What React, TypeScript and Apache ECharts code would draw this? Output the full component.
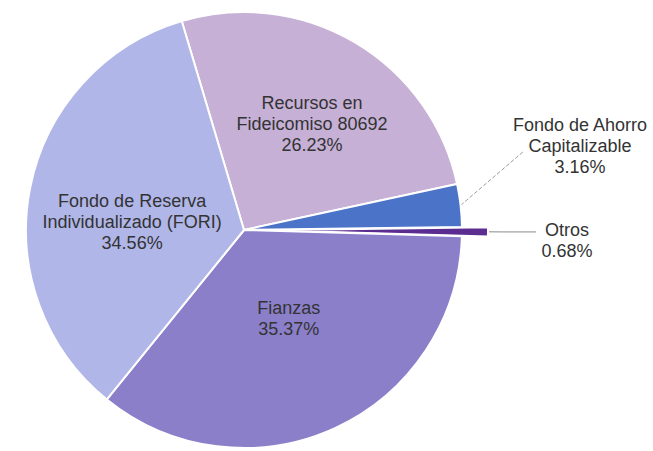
import React, { useEffect, useRef } from "react";
import * as echarts from "echarts";

const categories = [
  "Recursos en\nFideicomiso 80692",
  "Fondo de Ahorro\nCapitalizable",
  "Otros",
  "Fianzas",
  "Fondo de Reserva\nIndividualizado (FORI)",
];
const values = [26.23, 3.16, 0.68, 35.37, 34.56];
const colors = ["#c6b0d6", "#4b73c8", "#5c2d91", "#8b7fca", "#b0b6e8"];
const labelOffsets: [number, number][] = [
  [11, -10],
  [0, 0],
  [0, 0],
  [-2, -13],
  [-2, 14],
];

export default function App() {
  const ref = useRef<HTMLDivElement>(null);
  useEffect(() => {
    if (!ref.current) return;
    const chart = echarts.init(ref.current, undefined, { renderer: "svg" });
    const data = categories.map((name, i) => {
      const base: any = {
        name,
        value: values[i],
        selected: i === 2,
        itemStyle: { color: colors[i] },
        select: { itemStyle: { color: colors[i] } },
      };
      if (i === 1) {
        base.label = { position: "outside" };
        base.labelLine = {
          show: true,
          lineStyle: { color: "#9a9a9a", type: "dashed", width: 1 },
        };
      } else if (i === 2) {
        base.label = {
          position: "outside",
          align: "left",
          padding: [18, 0, 0, 0],
          formatter: (p: any) =>
            `{c|${p.name}}\n{c|${p.value.toFixed(2)}%}`,
          rich: {
            c: {
              width: 52,
              align: "center",
              fontFamily: "Liberation Sans, Arial, sans-serif",
              fontSize: 18,
              lineHeight: 21,
              color: "#333333",
            },
          },
        };
        base.labelLine = {
          show: true,
          length: 15,
          length2: 33,
          lineStyle: { color: "#8a8a8a", type: "solid", width: 1 },
        };
      } else {
        base.label = { position: "inside", offset: labelOffsets[i] };
        base.labelLine = { show: false };
      }
      return base;
    });
    chart.setOption({
      animation: false,
      backgroundColor: "#ffffff",
      series: [
        {
          type: "pie",
          center: [244, 230],
          radius: [0, 218],
          startAngle: 106.6,
          clockwise: true,
          selectedMode: "single",
          selectedOffset: 26,
          avoidLabelOverlap: false,
          itemStyle: { borderColor: "#ffffff", borderWidth: 2 },
          emphasis: { disabled: true },
          label: {
            show: true,
            formatter: (p: any) => `${p.name}\n${p.value.toFixed(2)}%`,
            fontFamily: "Liberation Sans, Arial, sans-serif",
            fontSize: 18,
            lineHeight: 21,
            color: "#333333",
            align: "center",
          },
          labelLine: {
            show: true,
            length: 20,
            length2: 20,
          },
          labelLayout: (params: any) => {
            if (params.dataIndex === 1) {
              const x = 580;
              const y = 146;
              const start =
                params.labelLinePoints && params.labelLinePoints[0]
                  ? params.labelLinePoints[0]
                  : [461, 202];
              const end = [x - 56, y + 5];
              const mid = [(start[0] + end[0]) / 2, (start[1] + end[1]) / 2];
              return {
                x,
                y,
                align: "center",
                verticalAlign: "middle",
                labelLinePoints: [start, mid, end],
              };
            }
            return {};
          },
          data,
        },
      ],
    });
    return () => chart.dispose();
  }, []);
  return (
    <div
      ref={ref}
      style={{ position: "fixed", left: 0, top: 0, width: 653, height: 451 }}
    />
  );
}
